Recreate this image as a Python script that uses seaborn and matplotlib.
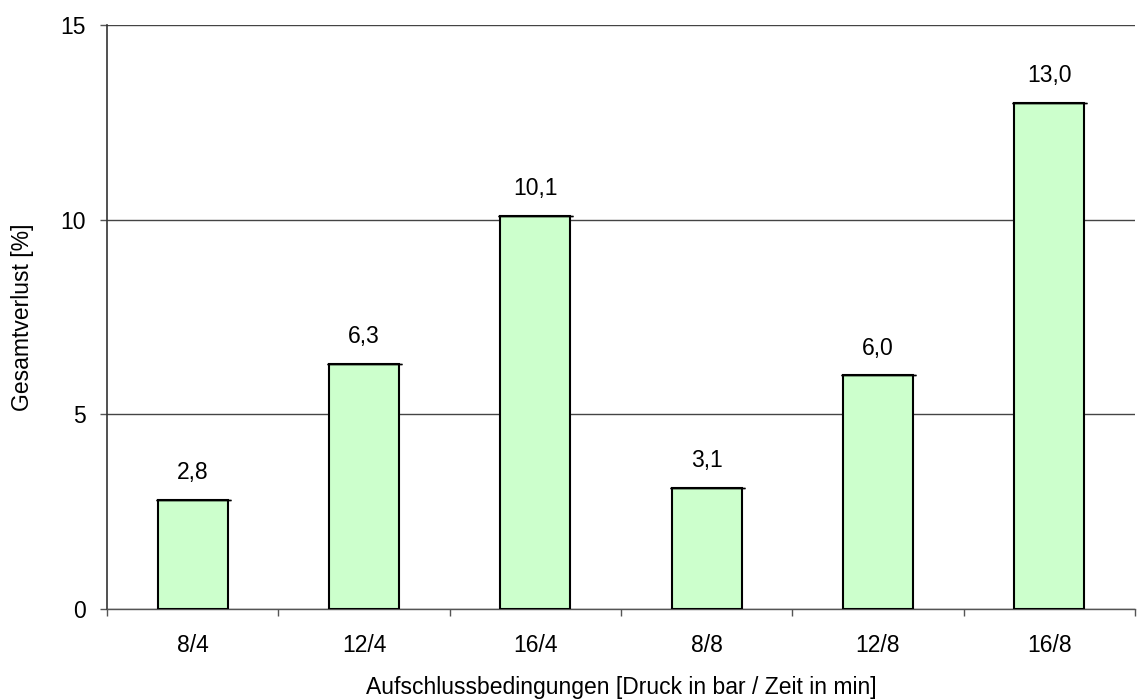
import matplotlib
matplotlib.use("Agg")
import matplotlib.pyplot as plt
import seaborn as sns
import numpy as np

# Pulping conditions (pressure in bar / time in min) and total loss in %
bedingungen = ["8/4", "12/4", "16/4", "8/8", "12/8", "16/8"]
gesamtverlust = [2.8, 6.3, 10.1, 3.1, 6.0, 13.0]
y_ticks = [0, 5, 10, 15]

sns.set_theme(style="white")
plt.rcParams["font.family"] = ["Liberation Sans", "DejaVu Sans"]

FS = 16.5

fig = plt.figure(figsize=(11.45, 7.0), dpi=100)
ax = fig.add_axes([107 / 1145, 91 / 700, 1028 / 1145, 584 / 700])

sns.barplot(x=bedingungen, y=gesamtverlust, color="#CCFFCC", saturation=1,
            edgecolor="black", linewidth=1.5, width=0.41, ax=ax, zorder=3)

# zero-length error caps on top of each bar
xpos = np.arange(len(bedingungen))
ax.errorbar(xpos, gesamtverlust, yerr=np.zeros(len(gesamtverlust)), fmt="none",
            ecolor="black", elinewidth=1, capsize=27, capthick=1.0, zorder=4)

# value labels with German decimal comma
for x, v in zip(xpos, gesamtverlust):
    ax.annotate(f"{v:.1f}".replace(".", ","), (x, v), xytext=(0, 15),
                textcoords="offset points", ha="center", va="baseline",
                fontsize=FS, color="black")

ax.set_xlim(-0.5, len(bedingungen) - 0.5)
ax.set_ylim(0, 15)
ax.set_yticks(y_ticks)
ax.yaxis.grid(True, color="#444444", linewidth=1, zorder=0)
ax.set_axisbelow(True)

for side in ("top", "right"):
    ax.spines[side].set_visible(False)
ax.spines["left"].set_color("#333333")
ax.spines["bottom"].set_color("#555555")
ax.spines["left"].set_linewidth(1.2)
ax.spines["bottom"].set_linewidth(1.0)

# category boundaries as tick marks, labels centred between them
ax.set_xticks(np.arange(-0.5, len(bedingungen), 1.0), minor=True)
ax.tick_params(axis="x", which="major", length=0, pad=18, labelsize=FS,
               colors="black")
ax.tick_params(axis="x", which="minor", length=5, width=1, color="#555555",
               direction="out", bottom=True)
ax.tick_params(axis="y", which="major", length=5, width=1, color="#555555",
               direction="out", left=True, pad=10, labelsize=FS,
               labelcolor="black")

ax.set_xlabel("Aufschlussbedingungen [Druck in bar / Zeit in min]",
              fontsize=FS, labelpad=14, color="black")
ax.set_ylabel("Gesamtverlust [%]", fontsize=FS, labelpad=19, color="black")

fig.savefig("out.png", dpi=100, facecolor="white")
